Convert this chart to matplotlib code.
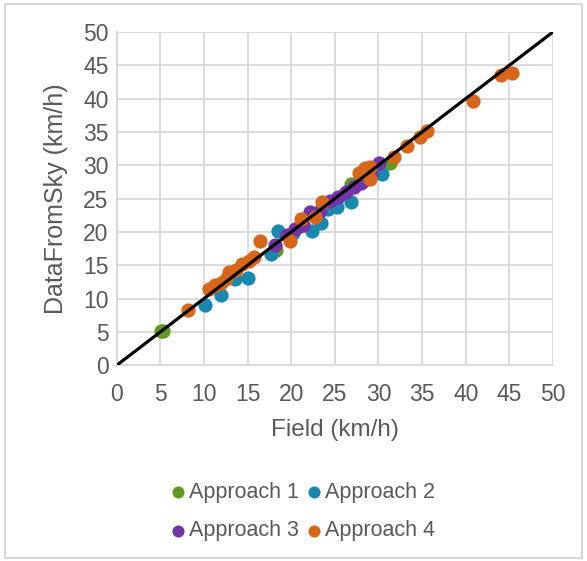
import matplotlib.pyplot as plt
from matplotlib.patches import Rectangle

plt.rcParams['font.family'] = ['Liberation Sans', 'DejaVu Sans']

# Approach 1 (green)
a1_x = [5.1, 5.3, 18.3, 26.9, 31.3]
a1_y = [5.1, 5.2, 17.3, 27.2, 30.4]

# Approach 2 (blue)
a2_x = [10.1, 12.0, 13.6, 15.0, 17.7, 18.5, 20.2, 21.0, 22.4, 23.4, 24.2, 25.2, 26.8, 28.2, 30.4]
a2_y = [9.1, 10.6, 13.0, 13.1, 16.7, 20.2, 19.8, 20.9, 20.1, 21.3, 23.5, 23.8, 24.5, 27.6, 28.7]

# Approach 3 (purple)
a3_x = [18.1, 19.5, 20.4, 21.4, 22.2, 23.3, 24.4, 25.4, 26.3, 27.2, 28.0, 29.1, 30.1]
a3_y = [18.1, 19.6, 20.4, 21.1, 23.0, 23.1, 24.7, 25.3, 26.0, 26.8, 27.3, 28.6, 30.3]

# Approach 4 (orange)
a4_x = [8.2, 10.6, 11.3, 11.9, 12.5, 12.9, 13.7, 14.4, 15.1, 15.7, 16.4, 19.9,
        21.1, 22.7, 23.5, 27.8, 28.4, 29.0, 29.0, 31.8, 33.3, 34.8, 35.6, 40.8, 44.0, 45.3]
a4_y = [8.3, 11.4, 12.0, 12.4, 12.9, 14.0, 14.3, 15.2, 15.6, 16.3, 18.6, 18.6,
        21.9, 22.2, 24.5, 28.8, 29.6, 29.8, 28.0, 31.3, 32.9, 34.3, 35.2, 39.6, 43.6, 43.9]

diag = [0, 50]

colores = {'Approach 1': '#5E9A20', 'Approach 2': '#1A88AE',
           'Approach 3': '#7234A6', 'Approach 4': '#D8661A'}
gris = '#595959'

fig = plt.figure(figsize=(5.87, 5.61), dpi=100)
ax = fig.add_axes([0.199, 0.349, 0.743, 0.594])

series = [('Approach 1', a1_x, a1_y), ('Approach 2', a2_x, a2_y),
          ('Approach 3', a3_x, a3_y), ('Approach 4', a4_x, a4_y)]
handles = {}
for nombre, xs, ys in series:
    handles[nombre] = ax.scatter(xs, ys, s=105, color=colores[nombre], label=nombre,
                                 linewidths=0, zorder=3)

ax.plot(diag, diag, color='black', lw=2.3, zorder=4)

ax.set_xlim(0, 50)
ax.set_ylim(0, 50)
ax.set_xticks(range(0, 51, 5))
ax.set_yticks(range(0, 51, 5))
ax.grid(True, color='#d9d9d9', lw=1.3, zorder=0)
ax.set_axisbelow(True)
ax.tick_params(length=0, labelsize=16.5, colors=gris)
ax.tick_params(axis='x', pad=13)
ax.tick_params(axis='y', pad=6)
for lado in ['top', 'right']:
    ax.spines[lado].set_visible(False)
for lado in ['left', 'bottom']:
    ax.spines[lado].set_color('#d9d9d9')
    ax.spines[lado].set_linewidth(1.3)

ax.set_xlabel('Field (km/h)', fontsize=17.5, color=gris, labelpad=9)
ax.set_ylabel('DataFromSky (km/h)', fontsize=18, color=gris, labelpad=11)

orden = ['Approach 1', 'Approach 3', 'Approach 2', 'Approach 4']
fig.legend([handles[n] for n in orden], orden, loc='center', ncol=2,
           bbox_to_anchor=(0.513, 0.088), frameon=False, fontsize=15.5,
           labelcolor=gris, handletextpad=0.0, columnspacing=0.2,
           markerscale=0.85, handlelength=1.0, labelspacing=0.8)

fig.add_artist(Rectangle((0.008, 0.006), 0.984, 0.986, transform=fig.transFigure,
                         fill=False, edgecolor='#d0d0d0', lw=1.2))

fig.savefig('out.png', dpi=100)
